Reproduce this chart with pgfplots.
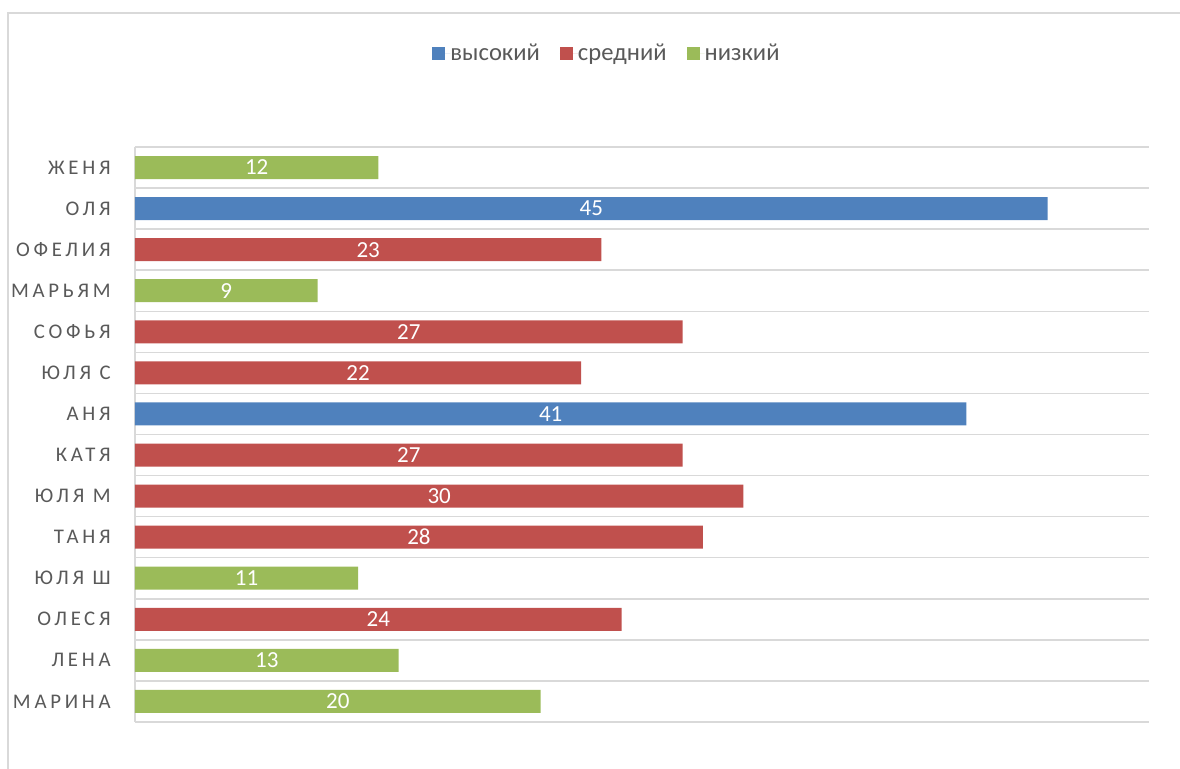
\documentclass[border=0pt]{standalone}
\usepackage{fontspec}
\setmainfont{Carlito}
\newfontfamily\spaced[LetterSpace=18]{Carlito}
\usepackage{pgfplots}
\usepackage{pgfplotstable}
\pgfplotsset{compat=1.18}
\definecolor{cblue}{HTML}{4F81BD}
\definecolor{cred}{HTML}{C0504D}
\definecolor{cgreen}{HTML}{9BBB59}
\definecolor{cgrid}{HTML}{D9D9D9}
\definecolor{ctext}{HTML}{595959}
\pgfplotstableread{
y v hi mid lo
0 20 nan nan 20
1 13 nan nan 13
2 24 nan 24 nan
3 11 nan nan 11
4 28 nan 28 nan
5 30 nan 30 nan
6 27 nan 27 nan
7 41 41 nan nan
8 22 nan 22 nan
9 27 nan 27 nan
10 9 nan nan 9
11 23 nan 23 nan
12 45 45 nan nan
13 12 nan nan 12
}\data
\begin{document}
\begin{tikzpicture}[x=1pt,y=1pt]
\useasboundingbox (0,0) rectangle (590,384.5);
\draw[cgrid, line width=0.75pt] (4,0) -- (4,378) -- (590,378);
\begin{axis}[
  at={(67.5pt,23.5pt)}, anchor=south west,
  width=507pt, height=287.5pt, scale only axis,
  xmin=0, xmax=50, ymin=-0.5, ymax=13.5,
  axis x line=none,
  axis y line*=left,
  y axis line style={cgrid, line width=0.75pt, -},
  ytick={0,...,13},
  yticklabels={МАРИНА, ЛЕНА, ОЛЕСЯ, ЮЛЯ Ш, ТАНЯ, ЮЛЯ М, КАТЯ, АНЯ, ЮЛЯ С, СОФЬЯ, МАРЬЯМ, ОФЕЛИЯ, ОЛЯ, ЖЕНЯ},
  minor ytick={-0.5,0.5,...,13.5},
  yminorgrids=true, ymajorgrids=false,
  minor grid style={cgrid, line width=0.75pt},
  major tick length=0pt, minor tick length=0pt,
  yticklabel style={font=\spaced\fontsize{10.4}{12}\selectfont, text=ctext, inner xsep=0pt, xshift=-12pt},
  bar width=11.5pt, bar shift=0pt,
  legend style={at={(0.4645,1.162)}, anchor=center, draw=none, fill=none,
    legend columns=3, font=\fontsize{12.3}{14}\selectfont, text=ctext,
    /tikz/every even column/.append style={column sep=10pt},
    nodes={inner xsep=0pt}},
  legend cell align=left,
  legend image code/.code={\fill[#1] (0pt,-3.25pt) rectangle (6.5pt,3.25pt); \path (0pt,0pt) -- (9pt,0pt);},
]
\addplot[xbar, fill=cblue, draw=none] table[x=hi, y=y]{\data};
\addlegendentry{высокий}
\addplot[xbar, fill=cred, draw=none] table[x=mid, y=y]{\data};
\addlegendentry{средний}
\addplot[xbar, fill=cgreen, draw=none] table[x=lo, y=y]{\data};
\addlegendentry{низкий}
\addplot[draw=none, mark=none, forget plot, nodes near coords, point meta=\thisrow{v},
  nodes near coords style={anchor=center, text=white, font=\fontsize{11.5}{13}\selectfont,
    /pgf/number format/assume math mode=true}]
  table[x expr=\thisrow{v}/2, y=y]{\data};
\end{axis}
\end{tikzpicture}
\end{document}
